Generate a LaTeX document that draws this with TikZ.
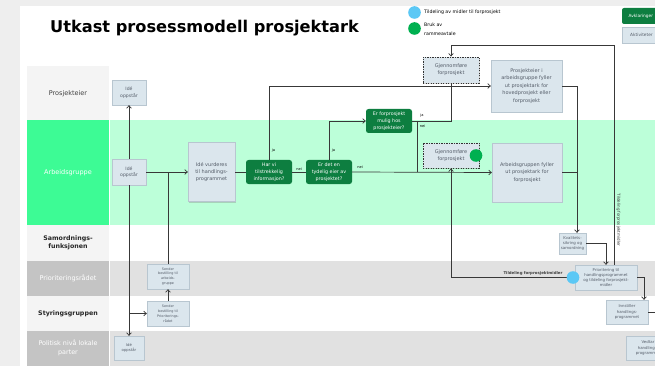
\documentclass[tikz,border=0pt]{standalone}
\usepackage{fontspec}
\setmainfont{DejaVu Sans}
\usetikzlibrary{arrows.meta,shadows}
\definecolor{pagegray}{HTML}{EEEEEE}
\definecolor{lanelight}{HTML}{F4F4F4}
\definecolor{lanegreen}{HTML}{3DFB95}
\definecolor{lanegreenbg}{HTML}{BCFFD9}
\definecolor{lanegray}{HTML}{C4C4C4}
\definecolor{lanegraybg}{HTML}{E1E1E1}
\definecolor{boxblue}{HTML}{DBE6ED}
\definecolor{boxline}{HTML}{B8C6D0}
\definecolor{boxtext}{HTML}{545C68}
\definecolor{decgreen}{HTML}{0D7E40}
\definecolor{dotgreen}{HTML}{00B050}
\definecolor{dotblue}{HTML}{5BC8F5}
\definecolor{linecol}{HTML}{383838}
\tikzset{
  actbox/.style={draw=boxline, line width=0.3pt, fill=boxblue, text=boxtext,
    align=center, inner sep=0pt, font=\fontsize{4.6}{6.4}\selectfont,
    drop shadow={shadow xshift=1pt, shadow yshift=-1pt, opacity=0.35}},
  dashbox/.style={actbox, draw=black!80, line width=0.9pt, dash pattern=on 1.4pt off 1.1pt,
    font=\fontsize{5}{7}\selectfont},
  decbox/.style={fill=decgreen, text=white, rounded corners=2.5pt, align=center,
    inner sep=0pt, font=\fontsize{4.8}{6.8}\selectfont},
  lanelbl/.style={align=center, font=\fontsize{6.5}{8}\selectfont},
  conn/.style={draw=linecol, line width=0.7pt, -{Straight Barb[length=2.6pt,width=4.6pt,line width=0.7pt]}},
  plain/.style={draw=linecol, line width=0.7pt},
  jn/.style={font=\fontsize{3.6}{4}\selectfont, text=black, inner sep=0.5pt},
}
\begin{document}
\begin{tikzpicture}[x=1pt,y=-1pt]
\useasboundingbox (0,0) rectangle (655,366);
\clip (0,0) rectangle (655,366);
% page
\fill[pagegray] (0,0) rectangle (655,366);
\fill[white] (20,6) rectangle (655,366);
% lanes: label column
\fill[lanelight] (27,66) rectangle (109.3,120);
\fill[lanegreen] (27,120) rectangle (109.3,225);
\fill[lanelight] (27,225) rectangle (109.3,261);
\fill[lanegray] (27,261) rectangle (109.3,296);
\fill[lanelight] (27,296) rectangle (109.3,331);
\fill[lanegray] (27,331) rectangle (109.3,366);
% lanes: content
\fill[lanegreenbg] (110.3,120) rectangle (655,225);
\fill[lanegraybg] (110.3,261) rectangle (655,296);
\fill[lanegraybg] (110.3,331) rectangle (655,366);
% lane labels
\node[lanelbl, text=black!75] (lp) at (68,94) {Prosjekteier};
\node[lanelbl, text=white] (la) at (68,173) {Arbeidsgruppe};
\node[lanelbl, text=black!85, font=\bfseries\fontsize{6.3}{8.5}\selectfont] (ls) at (68,243) {Samordnings-\\funksjonen};
\node[lanelbl, text=white] (lpr) at (68,278) {Prioriteringsrådet};
\node[lanelbl, text=black!85, font=\bfseries\fontsize{6.3}{8}\selectfont] (lst) at (68,314) {Styringsgruppen};
\node[lanelbl, text=white, font=\fontsize{6.4}{9}\selectfont] (lpo) at (68,348) {Politisk nivå lokale\\parter};
% title
\node[anchor=west, font=\bfseries\fontsize{16.2}{18}\selectfont, text=black, inner sep=0pt] (title) at (50,28.5) {Utkast prosessmodell prosjektark};
% legend
\fill[dotblue] (414.5,12.5) circle (6.3);
\node[anchor=west, font=\fontsize{4.7}{6}\selectfont, inner sep=0pt] (leg1) at (424,12.5) {Tildeling av midler til forprosjekt};
\fill[dotgreen] (414.5,28.5) circle (6.3);
\node[anchor=north west, align=left, font=\fontsize{4.7}{8.5}\selectfont, inner sep=0pt] (leg2) at (424,23) {Bruk av\\rammeavtale};
\path[fill=decgreen, rounded corners=2pt] (622,8) rectangle (675,24);
\node[anchor=west, text=white, font=\fontsize{4.3}{5}\selectfont, inner sep=0pt] (legA) at (628.5,16) {Avklaringer};
\path[fill=boxblue, draw=boxline, line width=0.3pt, drop shadow={shadow xshift=1pt, shadow yshift=-1pt, opacity=0.35}] (622,27) rectangle (675,43);
\node[anchor=west, text=boxtext, font=\fontsize{4.3}{5}\selectfont, inner sep=0pt] (legB) at (630,35) {Aktiviteter};
% activity nodes
\node[actbox, minimum width=34pt, minimum height=25pt] (ideP) at (129,92.5) {Idé\\oppstår};
\node[actbox, minimum width=34pt, minimum height=26pt] (ideA) at (129,172) {Idé\\oppstår};
\node[actbox, minimum width=30pt, minimum height=24pt, font=\fontsize{3.8}{5.5}\selectfont] (idePol) at (129,348) {Idé\\oppstår};
\node[actbox, minimum width=47pt, minimum height=59pt, font=\fontsize{5}{7.2}\selectfont] (vurd) at (211.5,172) {Idé vurderes\\til handlings-\\programmet};
\node[decbox, minimum width=46pt, minimum height=24pt] (harvi) at (269,172) {Har vi\\tilstrekkelig\\informasjon?};
\node[decbox, minimum width=46pt, minimum height=24pt] (erdet) at (329,172) {Er det en\\tydelig eier av\\prosjektet?};
\node[decbox, minimum width=46pt, minimum height=24pt] (erfor) at (389,121) {Er forprosjekt\\mulig hos\\prosjekteier?};
\node[dashbox, minimum width=56pt, minimum height=26pt] (gjTop) at (451,70) {Gjennomføre\\forprosjekt};
\node[dashbox, minimum width=56pt, minimum height=25pt] (gjLow) at (451,155.5) {Gjennomføre\\forprosjekt};
\fill[dotgreen] (476,155.5) circle (6.3);
\node[actbox, minimum width=71pt, minimum height=52pt, font=\fontsize{5}{7.6}\selectfont] (pe9) at (526.5,86) {Prosjekteier i\\arbeidsgruppe fyller\\ut prosjektark for\\hovedprosjekt eller\\forprosjekt};
\node[actbox, minimum width=70pt, minimum height=59pt, font=\fontsize{5}{7.6}\selectfont] (ag10) at (527,172.5) {Arbeidsgruppen fyller\\ut prosjektark for\\forprosjekt};
\node[actbox, minimum width=27pt, minimum height=21pt, font=\fontsize{3.9}{5.4}\selectfont] (kval) at (572.5,243.5) {Kvalitets-\\sikring og\\samordning};
\node[actbox, minimum width=62pt, minimum height=25pt, font=\fontsize{3.9}{5.2}\selectfont] (prio) at (606,277.5) {Prioritering til\\handlingsprogrammet\\og tildeling forprosjekt-\\midler};
\node[actbox, minimum width=42pt, minimum height=24pt, font=\fontsize{3.9}{5.6}\selectfont] (inn) at (627,312) {Innstiller\\handlings-\\programmet};
\node[actbox, minimum width=44pt, minimum height=24pt, font=\fontsize{3.9}{5.6}\selectfont] (vedtar) at (648,348) {Vedtar\\handlings-\\programmet};
\node[actbox, minimum width=42pt, minimum height=25pt, font=\fontsize{3.4}{4.9}\selectfont] (sb1) at (168,276.5) {Sender\\bestilling til\\arbeids-\\gruppe};
\node[actbox, minimum width=42pt, minimum height=25pt, font=\fontsize{3.4}{4.9}\selectfont] (sb2) at (168,313.5) {Sender\\bestilling til\\Prioriterings-\\rådet};
% helper coordinates
\coordinate (neiTurn) at (417,172);
\coordinate (topTurn) at (614,45);
\coordinate (offR) at (668,312);
% connectors
\draw[conn] (ideA.north) -- (ideP.south);
\draw[conn] (ideA.south) -- (idePol.north);
\draw[conn] (ideA.center |- sb2.west) -- (sb2.west);
\draw[conn] (ideA.east) -- (vurd.west);
\draw[plain] (sb1.north) -- (sb1.north |- ideA.east);
\draw[conn] (sb2.north) -- (sb1.south);
\draw[plain] (vurd.east) -- (harvi.west);
\draw[plain] (harvi.east) -- node[jn, above, yshift=1pt] (lnei1) {nei} (erdet.west);
\draw[conn] (harvi.north) |- node[jn, pos=0.06, right, xshift=2pt] (lja1) {ja} (pe9.west);
\draw[conn] (erdet.north) |- node[jn, pos=0.12, right, xshift=2pt] (lja2) {ja} (erfor.west);
\draw[conn] (erdet.east) -- (ag10.west);
\node[jn] (lnei2) at (360,167.5) {nei};
\draw[plain] (erfor.east) -| (gjTop.south);
\node[jn] (lja3) at (422,116) {ja};
\draw[plain] (erfor.east -| neiTurn) -- (neiTurn);
\node[jn] (lnei3) at (422.5,126.5) {nei};
\draw[conn] (prio.north -| topTurn) -- (topTurn) -| (gjTop.north);
\node[font=\fontsize{4}{5}\selectfont, text=black!80, rotate=-90, inner sep=0pt] (ltil1) at (618.5,220) {Tildeling forprosjektmidler};
\draw[conn] (prio.west) -| (gjLow.south);
\fill[dotblue] (573,277.5) circle (6.3);
\node[font=\bfseries\fontsize{3.9}{5}\selectfont, text=black!75, inner sep=0pt] (ltil2) at (533,273.5) {Tildeling forprosjektmidler};
\draw[conn] (pe9.east) -| ([xshift=4.5pt]kval.north);
\draw[plain] (ag10.east) -- ([xshift=4.5pt]kval.north |- ag10.east);
\draw[conn] (kval.east) -| (prio.north);
\draw[conn] (prio.east) -| ([xshift=17pt]inn.north);
\draw[plain] (inn.east) -- (offR);
\end{tikzpicture}
\end{document}
